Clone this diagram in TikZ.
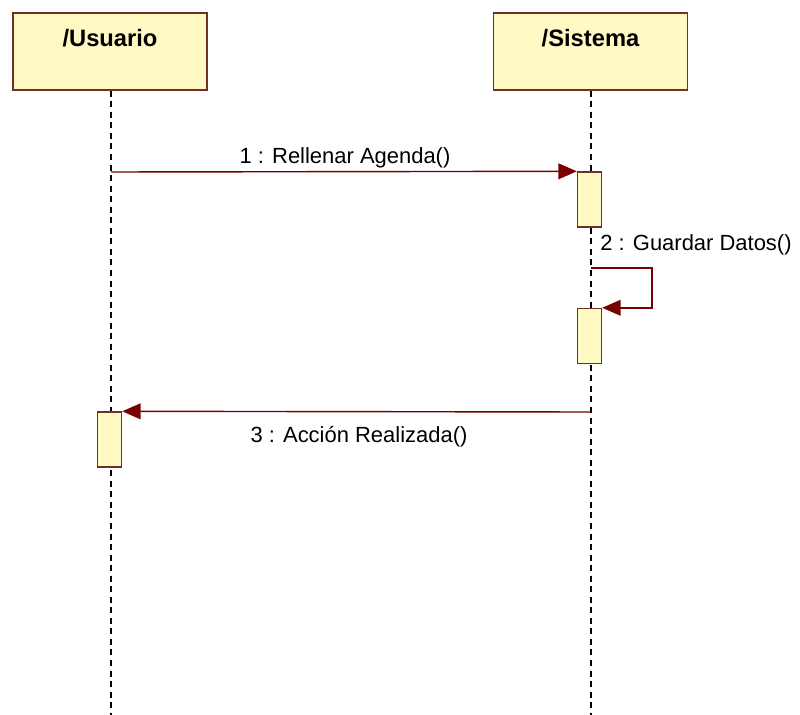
\documentclass[tikz,border=0pt]{standalone}
\usepackage{fontspec}
\setmainfont{Liberation Sans}
\usetikzlibrary{arrows.meta}

\definecolor{amarillo}{RGB}{255,249,196}
\definecolor{borde}{RGB}{112,48,40}
\definecolor{granate}{RGB}{120,0,0}

\begin{document}
\begin{tikzpicture}[x=0.02cm, y=-0.02cm,
    objeto/.style={draw=borde, fill=amarillo, line width=0.9pt, minimum width=3.88cm, minimum height=1.54cm, inner sep=0pt},
    activacion/.style={draw=borde, fill=amarillo, line width=0.8pt, minimum width=0.48cm, minimum height=1.1cm, inner sep=0pt},
    vida/.style={black, line width=0.9pt, dash pattern=on 3.4pt off 2.6pt},
    mensaje/.style={granate, line width=0.8pt, -{Triangle[length=10.5pt, width=9pt]}},
    texto/.style={font=\fontsize{12.5}{14}\selectfont, inner sep=0pt}]
    \useasboundingbox (0,0) rectangle (800,715);

    % Objetos
    \node[objeto] (usuario) at (110,51.5) {};
    \node[objeto] (sistema) at (590.5,51.5) {};
    \node[font=\fontsize{13.5}{15}\bfseries, inner sep=0pt] (usuarioTxt) at (110,38) {/Usuario};
    \node[font=\fontsize{13.5}{15}\bfseries, inner sep=0pt] (sistemaTxt) at (590.5,38) {/Sistema};

    % Lineas de vida
    \coordinate (finU) at (111,715);
    \coordinate (finS) at (591,715);
    \draw[vida] (usuario.south -| finU) -- (finU);
    \draw[vida] (sistema.south -| finS) -- (finS);

    % Activaciones
    \node[activacion] (act1) at (589.5,199.5) {};
    \node[activacion] (act2) at (589.5,336) {};
    \node[activacion] (act3) at (109.5,439.5) {};

    % 1 : Rellenar Agenda()
    \coordinate (ini1) at (111,172);
    \draw[mensaje] (ini1) -- (act1.north west);
    \node[texto] (msg1) at (345,158) {1 : Rellenar Agenda()};

    % 2 : Guardar Datos() (mensaje a si mismo)
    \coordinate (ini2) at (591,268);
    \coordinate (esq2) at (652,268);
    \draw[mensaje] (ini2) -- (esq2) |- (act2.north east);
    \node[texto] (msg2) at (696,245) {2 : Guardar Datos()};

    % 3 : Acción Realizada()
    \coordinate (ini3) at (591,412);
    \draw[mensaje] (ini3) -- (act3.north east);
    \node[texto] (msg3) at (359,437) {3 : Acción Realizada()};

\end{tikzpicture}
\end{document}
